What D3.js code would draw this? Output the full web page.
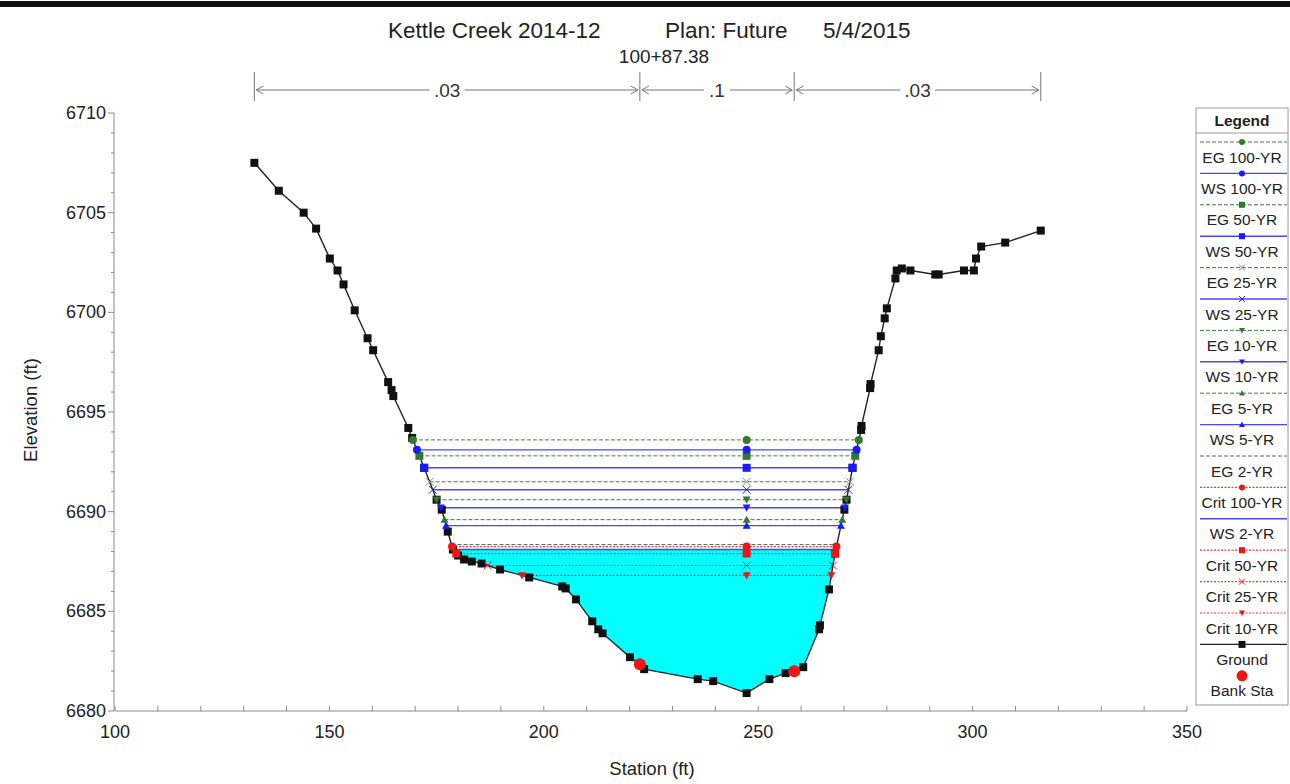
<!DOCTYPE html>
<html>
<head>
<meta charset="utf-8">
<script src="https://cdn.jsdelivr.net/npm/d3@7"></script>
<style>
html,body{margin:0;padding:0;background:#fff;}
svg{display:block;font-family:"Liberation Sans",Arial,sans-serif;}
</style>
</head>
<body>
<svg id="chart" width="1290" height="784"></svg>
<script>
// ---------- DATA ----------
const groundStation = [132.5,138.2,144.0,146.9,150.1,151.9,153.3,155.9,158.9,160.2,163.7,164.5,164.9,168.4,169.3,172.1,175.0,176.2,177.6,178.8,180.0,181.4,183.2,185.5,189.8,196.6,204.3,205.1,207.5,211.3,212.7,213.7,220.1,222.4,223.4,235.9,239.5,247.3,252.6,256.4,258.4,260.5,264.2,264.4,266.5,267.9,270.1,270.6,272.0,274.0,274.1,276.1,276.2,278.1,278.6,279.5,280.0,282.0,282.3,283.5,285.5,291.3,292.1,298.0,300.3,300.8,302.0,307.6,315.9];
const groundElev = [6707.5,6706.1,6705.0,6704.2,6702.7,6702.1,6701.4,6700.1,6698.7,6698.1,6696.5,6696.1,6695.8,6694.2,6693.7,6692.2,6690.6,6690.1,6689.0,6688.1,6687.8,6687.6,6687.5,6687.4,6687.1,6686.7,6686.25,6686.15,6685.6,6684.5,6684.1,6683.9,6682.7,6682.35,6682.1,6681.6,6681.5,6680.9,6681.6,6681.9,6682.0,6682.2,6684.1,6684.3,6686.1,6687.9,6690.1,6690.6,6692.2,6694.1,6694.3,6696.2,6696.4,6698.1,6698.8,6699.7,6700.2,6701.7,6702.1,6702.2,6702.1,6701.9,6701.9,6702.1,6702.1,6702.7,6703.3,6703.5,6704.1];
const bankStations = [222.4, 258.4];
const bankElev = [6682.35, 6682.0];
const centerStation = 247.3;

const profileNames = ["EG 100-YR","WS 100-YR","EG 50-YR","WS 50-YR","EG 25-YR","WS 25-YR","EG 10-YR","WS 10-YR","EG 5-YR","WS 5-YR","EG 2-YR","Crit 100-YR","WS 2-YR","Crit 50-YR","Crit 25-YR","Crit 10-YR"];
const profileElev = [6693.6,6693.1,6692.8,6692.2,6691.5,6691.1,6690.6,6690.2,6689.6,6689.3,6688.35,6688.25,6688.1,6687.9,6687.3,6686.8];
const profileKind = ["EG","WS","EG","WS","EG","WS","EG","WS","EG","WS","EG2","Crit","WS2","Crit","Crit","Crit"];
const profileMarker = ["circle","circle","square","square","x","x","tridown","tridown","triup","triup","none","circle","none","square","x","tridown"];

const xTicks = [100,150,200,250,300,350];
const yTicks = [6680,6685,6690,6695,6700,6705,6710];
const nValues = [".03",".1",".03"];
const titleParts = ["Kettle Creek 2014-12","Plan: Future","5/4/2015"];
const riverStation = "100+87.38";

// ---------- STYLE ----------
const GREEN = "#2f7a2f", BLUE = "#1a1aff", RED = "#ee1515";
const kindStyle = {
  EG:  {stroke:"#3d7d3d", dash:"4,2", width:1, color:GREEN},
  WS:  {stroke:"#4646ff", dash:null, width:1.4, color:BLUE},
  EG2: {stroke:"#5a6a5a", dash:"4,2", width:1, color:"#555"},
  WS2: {stroke:"#4a4ae0", dash:null, width:1.6, color:BLUE},
  Crit:{stroke:"#e63a3a", dash:"2,1.5", width:1.2, color:RED}
};

const svg = d3.select("#chart");
const x = d3.scaleLinear().domain([100,350]).range([115,1187]);
const y = d3.scaleLinear().domain([6680,6710]).range([711,113]);

// top thick bar
svg.append("rect").attr("x",0).attr("y",1).attr("width",1290).attr("height",6).attr("fill","#111");

// title
const tx = [388,665,823];
titleParts.forEach((t,i)=>svg.append("text").attr("x",tx[i]).attr("y",38).attr("font-size",22.5).attr("fill","#222").text(t));
svg.append("text").attr("x",664).attr("y",63).attr("text-anchor","middle").attr("font-size",19).attr("fill","#222").text(riverStation);

// n-value bar
const nBreaks = [groundStation[0], bankStations[0], bankStations[1], groundStation[groundStation.length-1]];
const nY = 90;
const nG = svg.append("g").attr("stroke","#777").attr("fill","none");
nBreaks.forEach(s=>nG.append("line").attr("x1",x(s)).attr("x2",x(s)).attr("y1",72).attr("y2",101).attr("stroke-width",1));
for(let i=0;i<3;i++){
  const a = x(nBreaks[i])+2, b = x(nBreaks[i+1])-2, m=(a+b)/2;
  nG.append("line").attr("x1",a).attr("x2",b).attr("y1",nY).attr("y2",nY);
  nG.append("path").attr("d",`M${a+7},${nY-4}L${a},${nY}L${a+7},${nY+4}`);
  nG.append("path").attr("d",`M${b-7},${nY-4}L${b},${nY}L${b-7},${nY+4}`);
  const w = nValues[i].length*9+8;
  svg.append("rect").attr("x",m-w/2).attr("y",nY-8).attr("width",w).attr("height",16).attr("fill","#fff");
  svg.append("text").attr("x",m).attr("y",nY+7).attr("text-anchor","middle").attr("font-size",19).attr("fill","#333").text(nValues[i]);
}

// axes
const axG = svg.append("g").attr("stroke","#888").attr("stroke-width",1);
axG.append("line").attr("x1",x(100)-1).attr("x2",x(100)-1).attr("y1",y(6710)).attr("y2",y(6680));
axG.append("line").attr("x1",x(100)).attr("x2",x(350)).attr("y1",y(6680)).attr("y2",y(6680));
d3.range(6680,6711,1).forEach(v=>{
  const len = v%5===0?6:3;
  axG.append("line").attr("x1",x(100)-1-len).attr("x2",x(100)-1).attr("y1",y(v)).attr("y2",y(v));
});
d3.range(100,351,10).forEach(v=>{
  axG.append("line").attr("x1",x(v)).attr("x2",x(v)).attr("y1",y(6680)).attr("y2",y(6680)-5);
});
yTicks.forEach(v=>svg.append("text").attr("x",106).attr("y",y(v)+6).attr("text-anchor","end").attr("font-size",18).attr("fill","#222").text(v));
xTicks.forEach(v=>svg.append("text").attr("x",x(v)).attr("y",738).attr("text-anchor","middle").attr("font-size",18).attr("fill","#222").text(v));
svg.append("text").attr("x",652).attr("y",775).attr("text-anchor","middle").attr("font-size",18.5).attr("fill","#222").text("Station (ft)");
svg.append("text").attr("transform","translate(37,410) rotate(-90)").attr("text-anchor","middle").attr("font-size",18.5).attr("fill","#222").text("Elevation (ft)");

// ground helpers
const ground = groundStation.map((s,i)=>({s, e:groundElev[i]}));
const thalIdx = groundElev.indexOf(d3.min(groundElev));
function crossings(level){
  let L=null,R=null;
  for(let i=thalIdx;i>0;i--){
    if(ground[i-1].e>=level && ground[i].e<level){const a=ground[i-1],b=ground[i];L=a.s+(level-a.e)*(b.s-a.s)/(b.e-a.e);break;}
  }
  for(let i=thalIdx;i<ground.length-1;i++){
    if(ground[i+1].e>=level && ground[i].e<level){const a=ground[i],b=ground[i+1];R=a.s+(level-a.e)*(b.s-a.s)/(b.e-a.e);break;}
  }
  return [L,R];
}

// water fill (WS 2-YR)
const wsIdx = profileNames.indexOf("WS 2-YR");
const wsLev = profileElev[wsIdx];
const [wl,wr] = crossings(wsLev);
const poly = [{s:wl,e:wsLev}].concat(ground.filter(g=>g.s>wl&&g.s<wr)).concat([{s:wr,e:wsLev}]);
svg.append("path").attr("d",d3.line().x(d=>x(d.s)).y(d=>y(d.e))(poly)+"Z").attr("fill","#00ffff").attr("stroke","none");

// profile lines (draw from bottom to top)
const marks = [];
for(let i=profileNames.length-1;i>=0;i--){
  const st = kindStyle[profileKind[i]];
  const [l,r] = crossings(profileElev[i]);
  const ln = svg.append("line").attr("x1",x(l)).attr("x2",x(r)).attr("y1",y(profileElev[i])).attr("y2",y(profileElev[i]))
    .attr("stroke",st.stroke).attr("stroke-width",st.width);
  if(st.dash) ln.attr("stroke-dasharray",st.dash);
  if(profileMarker[i]!=="none"){
    [l,centerStation,r].forEach(s=>marks.push({px:x(s),py:y(profileElev[i]),shape:profileMarker[i],color:st.color}));
  }
}

// ground line
svg.append("path").attr("d",d3.line().x(d=>x(d.s)).y(d=>y(d.e))(ground)).attr("fill","none").attr("stroke","#222").attr("stroke-width",1.4);

function drawMarker(g,px,py,shape,color,size){
  const h=size/2;
  if(shape==="circle") g.append("circle").attr("cx",px).attr("cy",py).attr("r",h).attr("fill",color);
  else if(shape==="square") g.append("rect").attr("x",px-h).attr("y",py-h).attr("width",size).attr("height",size).attr("fill",color);
  else if(shape==="x") g.append("path").attr("d",`M${px-h},${py-h}L${px+h},${py+h}M${px-h},${py+h}L${px+h},${py-h}`).attr("stroke",color).attr("stroke-width",1).attr("fill","none");
  else if(shape==="tridown") g.append("path").attr("d",`M${px-h},${py-h*0.8}L${px+h},${py-h*0.8}L${px},${py+h}Z`).attr("fill",color);
  else if(shape==="triup") g.append("path").attr("d",`M${px-h},${py+h*0.8}L${px+h},${py+h*0.8}L${px},${py-h}Z`).attr("fill",color);
}

// ground markers
const mg = svg.append("g");
ground.forEach(g=>drawMarker(mg,x(g.s),y(g.e),"square","#111",8));
// profile markers
marks.forEach(m=>drawMarker(mg,m.px,m.py,m.shape,m.shape==="x"&&m.color===GREEN?"#6f9a6f":m.color,8));
// bank stations
bankStations.forEach((s,i)=>mg.append("circle").attr("cx",x(s)).attr("cy",y(bankElev[i])).attr("r",6).attr("fill",RED));

// ---------- LEGEND ----------
const lg = svg.append("g");
const LX0=1196, LX1=1288, LC=1242;
lg.append("rect").attr("x",LX0).attr("y",108).attr("width",LX1-LX0).attr("height",597).attr("fill","#fff").attr("stroke","#999");
lg.append("text").attr("x",LC).attr("y",126).attr("text-anchor","middle").attr("font-size",15.5).attr("font-weight","bold").attr("fill","#222").text("Legend");
lg.append("line").attr("x1",LX0).attr("x2",LX1).attr("y1",133).attr("y2",133).attr("stroke","#999");
const legendItems = profileNames.map((n,i)=>({name:n,kind:profileKind[i],marker:profileMarker[i]}));
legendItems.push({name:"Ground",kind:"Ground",marker:"square"});
legendItems.push({name:"Bank Sta",kind:"Bank",marker:"bank"});
const step = 31.4;
legendItems.forEach((it,i)=>{
  const ly = 142 + i*step;
  if(it.kind==="Bank"){
    lg.append("circle").attr("cx",LC).attr("cy",ly).attr("r",5.5).attr("fill",RED);
  } else if(it.kind==="Ground"){
    lg.append("line").attr("x1",LX0+4).attr("x2",LX1-1).attr("y1",ly).attr("y2",ly).attr("stroke","#222").attr("stroke-width",1.4);
    drawMarker(lg,LC,ly,"square","#111",7);
  } else {
    const st = kindStyle[it.kind];
    const ln = lg.append("line").attr("x1",LX0+4).attr("x2",LX1-1).attr("y1",ly).attr("y2",ly).attr("stroke",st.stroke).attr("stroke-width",st.width);
    if(st.dash) ln.attr("stroke-dasharray",st.dash);
    if(it.marker!=="none") drawMarker(lg,LC,ly,it.marker,it.marker==="x"&&st.color===GREEN?"#6f9a6f":st.color,6);
  }
  lg.append("text").attr("x",LC).attr("y",ly+20.5).attr("text-anchor","middle").attr("font-size",15.5).attr("fill","#222").text(it.name);
});
</script>
</body>
</html>
